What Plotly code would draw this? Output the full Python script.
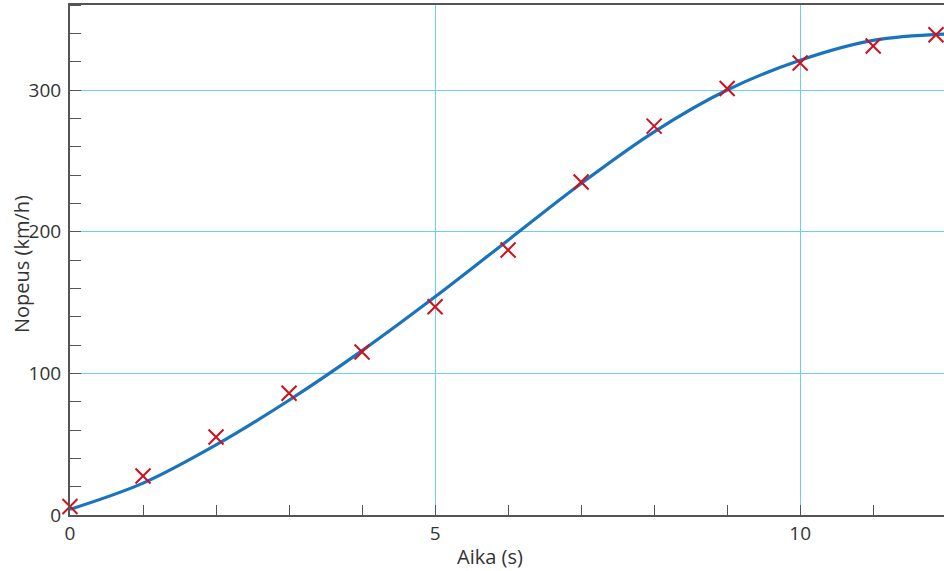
import plotly.graph_objects as go

# Measured points (time in s, speed in km/h)
time_s = [0, 1, 2, 3, 4, 5, 6, 7, 8, 9, 10, 11, 11.86]
speed_kmh = [6, 27.5, 55, 86, 115, 147, 187, 235, 274.5, 301, 319, 331, 339]

# Fitted curve
curve_t = [0, 1, 2, 3, 4, 5, 6, 7, 8, 9, 10, 11, 12]
curve_v = [4, 22.5, 49.5, 81, 116, 154, 194, 234, 270.5, 300, 321, 335, 339.5]

x_ticks = [0, 5, 10]
y_ticks = [0, 100, 200, 300]
x_title = "Aika (s)"
y_title = "Nopeus (km/h)"

axis_col = "#555555"
grid_col = "#6ccff2"
font_fam = "Open Sans, Liberation Sans, sans-serif"

fig = go.Figure()
fig.add_trace(go.Scatter(
    x=curve_t, y=curve_v, mode="lines",
    line=dict(color="#1a73bd", width=3.2, shape="spline", smoothing=1.0),
    hoverinfo="skip", showlegend=False, cliponaxis=True))
fig.add_trace(go.Scatter(
    x=time_s, y=speed_kmh, mode="markers",
    marker=dict(symbol="x-thin", size=15, line=dict(color="#d0101c", width=2)),
    showlegend=False, cliponaxis=False))

fig.update_layout(
    width=944, height=571,
    margin=dict(l=70, r=0, t=5, b=56, autoexpand=False),
    paper_bgcolor="white", plot_bgcolor="white",
    font=dict(family=font_fam, size=19, color="#333333"),
)
fig.update_xaxes(
    range=[0, 11.97], tickvals=x_ticks, ticktext=[str(v) for v in x_ticks],
    showgrid=True, gridcolor=grid_col, gridwidth=1.3,
    showline=True, linecolor=axis_col, linewidth=2, mirror=True,
    ticks="inside", ticklen=10, tickcolor=axis_col, tickwidth=1.3,
    minor=dict(ticks="inside", dtick=1, ticklen=10, tickcolor=axis_col, tickwidth=1.3, showgrid=False),
    zeroline=False, automargin=False,
    tickfont=dict(size=19),
)
fig.update_yaxes(
    range=[0, 360], tickvals=y_ticks, ticktext=[str(v) for v in y_ticks],
    showgrid=True, gridcolor=grid_col, gridwidth=1.3,
    showline=True, linecolor=axis_col, linewidth=2,
    ticks="",
    minor=dict(ticks="inside", dtick=20, tick0=0, ticklen=11, tickcolor=axis_col, tickwidth=1.3, showgrid=False),
    zeroline=False, automargin=False,
    tickfont=dict(size=19), ticklabelstandoff=3,
)
fig.add_annotation(text=x_title, xref="paper", yref="paper",
                   x=(490 - 70) / 874, y=-(556 - 515) / 510,
                   showarrow=False, xanchor="center", yanchor="middle",
                   font=dict(size=20, color="#333333"))
fig.add_annotation(text=y_title, xref="paper", yref="paper",
                   x=-(70 - 21) / 874, y=(515 - 264) / 510,
                   showarrow=False, xanchor="center", yanchor="middle", textangle=-90,
                   font=dict(size=20, color="#333333"))

fig.write_html("out.html", config={"displayModeBar": False},
               post_script="document.body.style.margin='0';document.body.style.overflow='hidden';")
